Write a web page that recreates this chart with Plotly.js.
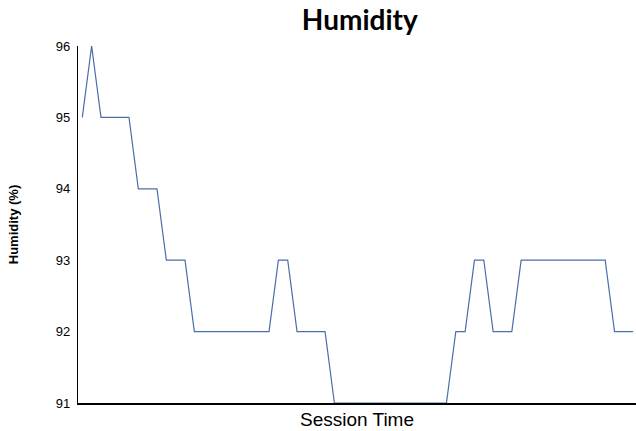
<!DOCTYPE html>
<html>
<head>
<meta charset="utf-8">
<script src="https://cdn.plot.ly/plotly-3.0.1.min.js"></script>
<style>html,body{margin:0;padding:0;background:#fff;}#chart{width:636px;height:431px;}</style>
</head>
<body>
<div id="chart"></div>
<script>
// Humidity readings per session step
const sessionIndex = Array.from({length: 60}, (_, i) => i);
const humidity = [
  95, 96, 95, 95, 95, 95, 94, 94, 94, 93,
  93, 93, 92, 92, 92, 92, 92, 92, 92, 92,
  92, 93, 93, 92, 92, 92, 92, 91, 91, 91,
  91, 91, 91, 91, 91, 91, 91, 91, 91, 91,
  92, 92, 93, 93, 92, 92, 92, 93, 93, 93,
  93, 93, 93, 93, 93, 93, 93, 92, 92, 92
];
const yTicks = [91, 92, 93, 94, 95, 96];

const trace = {
  x: sessionIndex,
  y: humidity,
  type: 'scatter',
  mode: 'lines',
  line: {color: '#4a6fa8', width: 1.2},
  hoverinfo: 'skip'
};

const layout = {
  width: 636,
  height: 431,
  margin: {l: 78, r: 0, t: 46, b: 28, pad: 0},
  paper_bgcolor: '#ffffff',
  plot_bgcolor: '#ffffff',
  showlegend: false,
  title: {
    text: 'Humidity',
    font: {family: 'Lato, sans-serif', size: 28, color: '#000', weight: 'bold'},
    xref: 'paper',
    x: 0.505, xanchor: 'center',
    yref: 'container',
    y: 0.952, yanchor: 'middle'
  },
  xaxis: {
    range: [-0.46, 59.3],
    showticklabels: false,
    ticks: '',
    showgrid: false,
    zeroline: false,
    showline: true,
    linecolor: '#000',
    linewidth: 1.5,
    title: {text: 'Session Time', font: {family: 'Liberation Sans, Arial, sans-serif', size: 19, color: '#000'}, standoff: 9}
  },
  yaxis: {
    range: [91, 96],
    tickvals: yTicks,
    ticktext: yTicks.map(String),
    ticks: 'outside',
    ticklen: 4,
    tickcolor: 'rgba(0,0,0,0)',
    tickfont: {family: 'Liberation Sans, Arial, sans-serif', size: 13, color: '#000'},
    showgrid: false,
    zeroline: false,
    showline: true,
    linecolor: '#000',
    linewidth: 1.2,
    title: {text: 'Humidity (%)', font: {family: 'Liberation Sans, Arial, sans-serif', size: 13, color: '#000', weight: 'bold'}, standoff: 34}
  }
};

Plotly.newPlot('chart', [trace], layout, {staticPlot: true, displayModeBar: false});
</script>
</body>
</html>
